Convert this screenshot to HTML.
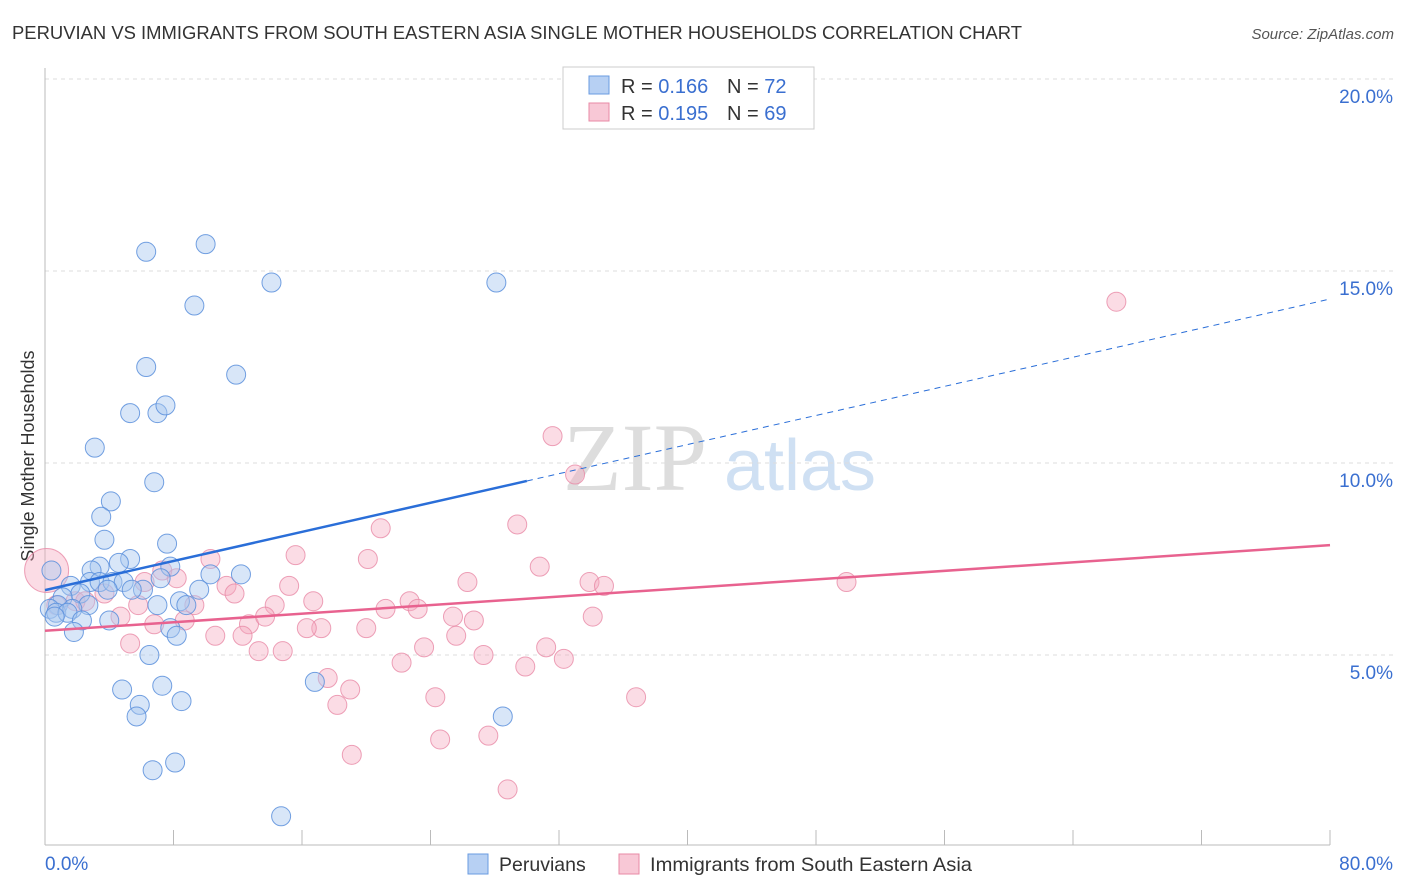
<!DOCTYPE html>
<html><head><meta charset="utf-8"><style>
body{margin:0;background:#fff;font-family:"Liberation Sans",sans-serif}
svg{display:block}
</style></head><body>
<svg id="c" width="1406" height="892">
<text x="12" y="39" font-size="18" fill="#333" textLength="1010" lengthAdjust="spacingAndGlyphs">PERUVIAN VS IMMIGRANTS FROM SOUTH EASTERN ASIA SINGLE MOTHER HOUSEHOLDS CORRELATION CHART</text>
<text x="1394" y="39" font-size="15" fill="#555" font-style="italic" text-anchor="end">Source: ZipAtlas.com</text>
<text x="0" y="0" transform="translate(34,456) rotate(-90)" font-size="18" fill="#333" text-anchor="middle">Single Mother Households</text>
<g><text x="635" y="490" font-size="96" font-family="Liberation Serif,serif" fill="#ddd" text-anchor="middle">ZIP</text><text x="800" y="490" font-size="72" fill="#cfe0f3" text-anchor="middle">atlas</text></g>
<g id="grid"></g><g id="marks"></g>
<g>
<rect x="563" y="67" width="251" height="62" fill="#fff" stroke="#ccc"/>
<rect x="589" y="76" width="20" height="18" fill="#b7d0f3" stroke="#6a9be0"/>
<text x="621" y="93" font-size="20" fill="#333">R = <tspan fill="#3a6fd0">0.166</tspan></text>
<text x="727" y="93" font-size="20" fill="#333">N = <tspan fill="#3a6fd0">72</tspan></text>
<rect x="589" y="103" width="20" height="18" fill="#f8c8d6" stroke="#e88aa6"/>
<text x="621" y="120" font-size="20" fill="#333">R = <tspan fill="#3a6fd0">0.195</tspan></text>
<text x="727" y="120" font-size="20" fill="#333">N = <tspan fill="#3a6fd0">69</tspan></text>
</g>
<g>
<rect x="468" y="854" width="20" height="20" fill="#b7d0f3" stroke="#6a9be0"/>
<text x="499" y="871" font-size="19.5" fill="#333">Peruvians</text>
<rect x="619" y="854" width="20" height="20" fill="#f8c8d6" stroke="#e88aa6"/>
<text x="650" y="871" font-size="19.5" fill="#333" textLength="322" lengthAdjust="spacingAndGlyphs">Immigrants from South Eastern Asia</text>
</g>
</svg>
<script>
const yTicks=[5,10,15,20];
const xTickLabels=["0.0%","80.0%"];
const blueX=[6.3,10.0,14.1,28.1,9.3,6.3,11.9,5.3,7.0,7.5,3.1,6.8,4.1,3.5,3.7,7.6,5.3,4.6,3.4,2.9,7.8,12.2,10.3,2.8,3.4,1.6,4.2,4.9,7.2,6.1,5.4,3.9,2.2,9.6,1.1,0.8,0.3,0.7,2.7,8.4,8.8,7.0,1.7,1.4,0.6,2.3,4.0,7.8,8.2,1.8,6.5,16.8,4.8,7.3,8.5,5.9,5.7,28.5,8.1,6.7,14.7,0.4];
const blueY=[15.5,15.7,14.7,14.7,14.1,12.5,12.3,11.3,11.3,11.5,10.4,9.5,9.0,8.6,8.0,7.9,7.5,7.4,7.3,7.2,7.3,7.1,7.1,6.9,6.9,6.8,6.9,6.9,7.0,6.7,6.7,6.7,6.6,6.7,6.5,6.3,6.2,6.1,6.3,6.4,6.3,6.3,6.2,6.1,6.0,5.9,5.9,5.7,5.5,5.6,5.0,4.3,4.1,4.2,3.8,3.7,3.4,3.4,2.2,2.0,0.8,7.2];
const pinkX=[66.7,31.6,33.0,29.4,20.9,10.3,15.6,20.1,30.8,7.3,8.2,26.3,33.9,34.8,49.9,6.2,11.3,15.2,11.8,16.7,22.7,23.2,14.3,9.3,5.8,3.7,1.9,0.7,2.5,4.7,21.2,25.4,26.7,34.1,8.7,6.8,12.7,13.7,17.2,16.3,20.0,10.6,12.3,25.6,5.3,23.6,31.2,13.3,14.8,27.3,32.3,22.2,29.9,17.6,19.0,36.8,24.3,18.2,27.6,24.6,19.1,28.8,0.1];
const pinkY=[14.2,10.7,9.7,8.4,8.3,7.5,7.6,7.5,7.3,7.2,7.0,6.9,6.9,6.8,6.9,6.9,6.8,6.8,6.6,6.4,6.4,6.2,6.3,6.3,6.3,6.6,6.4,6.3,6.4,6.0,6.2,6.0,5.9,6.0,5.9,5.8,5.8,6.0,5.7,5.7,5.7,5.5,5.5,5.5,5.3,5.2,5.2,5.1,5.1,5.0,4.9,4.8,4.7,4.4,4.1,3.9,3.9,3.7,2.9,2.8,2.4,1.5,7.2];
const blueTrend=[6.69,14.27], blueSolidEnd=30.0;
const pinkTrend=[5.63,7.86];
const NS="http://www.w3.org/2000/svg";
const X=v=>45+v/80*1285, Y=v=>847-v*38.4;
function mk(t,a,p){const e=document.createElementNS(NS,t);for(const k in a)e.setAttribute(k,a[k]);p.appendChild(e);return e;}
const g=document.getElementById('grid'), m=document.getElementById('marks');
yTicks.forEach(t=>{const l=mk('line',{x1:45,x2:1394,y1:Y(t),y2:Y(t),stroke:'#ddd','stroke-dasharray':'4,4'},g);


const tx=mk('text',{x:1393,y:Y(t)+24,'font-size':19,fill:'#3a6fd0','text-anchor':'end'},g);tx.textContent=t.toFixed(1)+'%';

});
mk('line',{x1:45,x2:45,y1:68,y2:845,stroke:'#bbb'},g);
mk('line',{x1:45,x2:1330,y1:845,y2:845,stroke:'#bbb'},g);
for(let i=0;i<=10;i++){mk('line',{x1:X(i*8),x2:X(i*8),y1:830,y2:845,stroke:'#bbb'},g);}
const xl=mk('text',{x:45,y:870,'font-size':19,fill:'#3a6fd0'},g);xl.textContent=xTickLabels[0];


const xr=mk('text',{x:1393,y:870,'font-size':19,fill:'#3a6fd0','text-anchor':'end'},g);xr.textContent=xTickLabels[1];


pinkX.forEach((x,i)=>{const c=mk('circle',{cx:X(x),cy:Y(pinkY[i]),r:i==pinkX.length-1?22:9.5,fill:'#f4a7bd','fill-opacity':0.4,stroke:'#e88aa6','stroke-opacity':0.8},m);

});
blueX.forEach((x,i)=>{const c=mk('circle',{cx:X(x),cy:Y(blueY[i]),r:9.5,fill:'#a9c8f0','fill-opacity':0.45,stroke:'#5a8fdc','stroke-opacity':0.85},m);

});
const by=v=>blueTrend[0]+(blueTrend[1]-blueTrend[0])*v/80;
const bl=mk('line',{x1:X(0),y1:Y(by(0)),x2:X(blueSolidEnd),y2:Y(by(blueSolidEnd)),stroke:'#2a6ed8','stroke-width':2.5},m);


const bd=mk('line',{x1:X(blueSolidEnd),y1:Y(by(blueSolidEnd)),x2:X(80),y2:Y(by(80)),stroke:'#2a6ed8','stroke-width':1,'stroke-dasharray':'6,5'},m);


const pl=mk('line',{x1:X(0),y1:Y(pinkTrend[0]),x2:X(80),y2:Y(pinkTrend[1]),stroke:'#e8628f','stroke-width':2.5},m);


</script>
</body></html>
